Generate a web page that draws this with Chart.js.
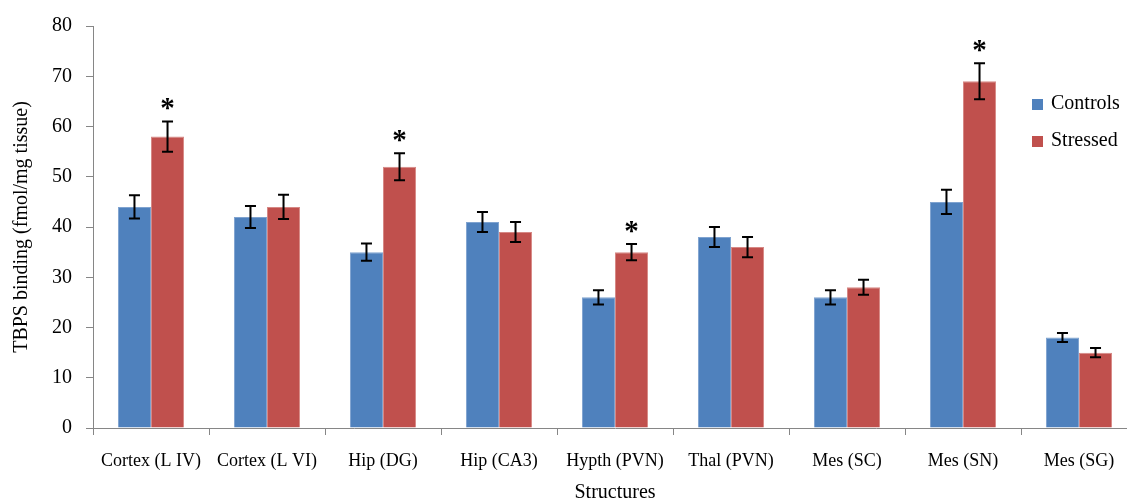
<!DOCTYPE html>
<html>
<head>
<meta charset="utf-8">
<script src="https://cdn.jsdelivr.net/npm/chart.js@4.4.0/dist/chart.umd.min.js"></script>
<style>
  html, body { margin: 0; padding: 0; background: #fff; overflow: hidden; }
</style>
</head>
<body>
<canvas id="grafico" width="1140" height="505"></canvas>
<script>
// datos
var estructuras = ['Cortex (L IV)', 'Cortex (L VI)', 'Hip (DG)', 'Hip (CA3)', 'Hypth (PVN)', 'Thal (PVN)', 'Mes (SC)', 'Mes (SN)', 'Mes (SG)'];
var controles = [44, 42, 35, 41, 26, 38, 26, 45, 18];
var estresados = [58, 44, 52, 39, 35, 36, 28, 69, 15];
var error_controles = [2.3, 2.2, 1.7, 2.0, 1.4, 2.0, 1.4, 2.4, 0.9];
var error_estresados = [3.0, 2.4, 2.7, 2.0, 1.6, 2.0, 1.5, 3.6, 0.9];
var significativo = [true, false, true, false, true, false, false, true, false];
var ticks_y = [0, 10, 20, 30, 40, 50, 60, 70, 80];

var fuente = 'Liberation Serif';
var gris = '#868686';

// barras de error y asteriscos
var plugin_errores = {
  id: 'errores',
  afterDatasetsDraw: function (chart) {
    var ctx = chart.ctx;
    var y = chart.scales.y;
    var errores = [error_controles, error_estresados];
    ctx.save();
    ctx.strokeStyle = '#000';
    ctx.lineWidth = 2;
    for (var d = 0; d < 2; d++) {
      var meta = chart.getDatasetMeta(d);
      var datos = chart.data.datasets[d].data;
      meta.data.forEach(function (barra, i) {
        var x = barra.x;
        var arriba = y.getPixelForValue(datos[i] + errores[d][i]);
        var abajo = y.getPixelForValue(datos[i] - errores[d][i]);
        ctx.beginPath();
        ctx.moveTo(x, arriba); ctx.lineTo(x, abajo);
        ctx.moveTo(x - 5.5, arriba); ctx.lineTo(x + 5.5, arriba);
        ctx.moveTo(x - 5.5, abajo); ctx.lineTo(x + 5.5, abajo);
        ctx.stroke();
        if (d == 1 && significativo[i]) {
          ctx.fillStyle = '#000';
          ctx.font = 'bold 29px ' + fuente;
          ctx.textAlign = 'center';
          ctx.textBaseline = 'alphabetic';
          ctx.fillText('*', x, arriba - 4);
        }
      });
    }
    ctx.restore();
  }
};

// leyenda dentro del area
var plugin_leyenda = {
  id: 'leyenda_interna',
  afterDraw: function (chart) {
    var ctx = chart.ctx;
    ctx.save();
    ctx.font = '20px ' + fuente;
    ctx.textBaseline = 'middle';
    ctx.textAlign = 'left';
    chart.data.datasets.forEach(function (ds, i) {
      var yy = 104 + i * 37;
      ctx.fillStyle = ds.backgroundColor;
      ctx.fillRect(1032, yy - 5, 11, 11);
      ctx.fillStyle = '#000';
      ctx.fillText(ds.label, 1051, yy);
    });
    ctx.restore();
  }
};

var chart_barras = new Chart(document.getElementById('grafico'), {
  type: 'bar',
  data: {
    labels: estructuras,
    datasets: [
      {
        label: 'Controls',
        data: controles,
        backgroundColor: '#4F81BD',
        borderColor: '#7FA3D0',
        borderWidth: 1,
        categoryPercentage: 0.57,
        barPercentage: 1.0
      },
      {
        label: 'Stressed',
        data: estresados,
        backgroundColor: '#C0504D',
        borderColor: '#D68885',
        borderWidth: 1,
        categoryPercentage: 0.57,
        barPercentage: 1.0
      }
    ]
  },
  options: {
    responsive: false,
    animation: false,
    layout: { padding: { top: 25, right: 3, left: 0, bottom: 0 } },
    plugins: { legend: { display: false }, tooltip: { enabled: false } },
    scales: {
      x: {
        grid: { display: true, drawOnChartArea: false, color: gris, tickLength: 7, offset: true },
        border: { color: gris, width: 1 },
        ticks: { color: '#000', font: { family: fuente, size: 18 }, padding: 15, maxRotation: 0, autoSkip: false },
        title: { display: true, text: 'Structures', color: '#000', font: { family: fuente, size: 20 }, padding: { top: 6, bottom: 0 } },
        afterFit: function (s) { s.height = 505 - 428; }
      },
      y: {
        min: 0,
        max: 80,
        afterBuildTicks: function (s) { s.ticks = ticks_y.map(function (v) { return { value: v }; }); },
        grid: { display: true, drawOnChartArea: false, color: gris, tickLength: 7 },
        border: { color: gris, width: 1 },
        ticks: { color: '#000', font: { family: fuente, size: 20 }, padding: 14 },
        title: { display: true, text: 'TBPS binding (fmol/mg tissue)', color: '#000', font: { family: fuente, size: 20 }, padding: { top: 10, bottom: 0 } },
        afterFit: function (s) { s.width = 93; }
      }
    }
  },
  plugins: [plugin_errores, plugin_leyenda]
});
</script>
</body>
</html>
